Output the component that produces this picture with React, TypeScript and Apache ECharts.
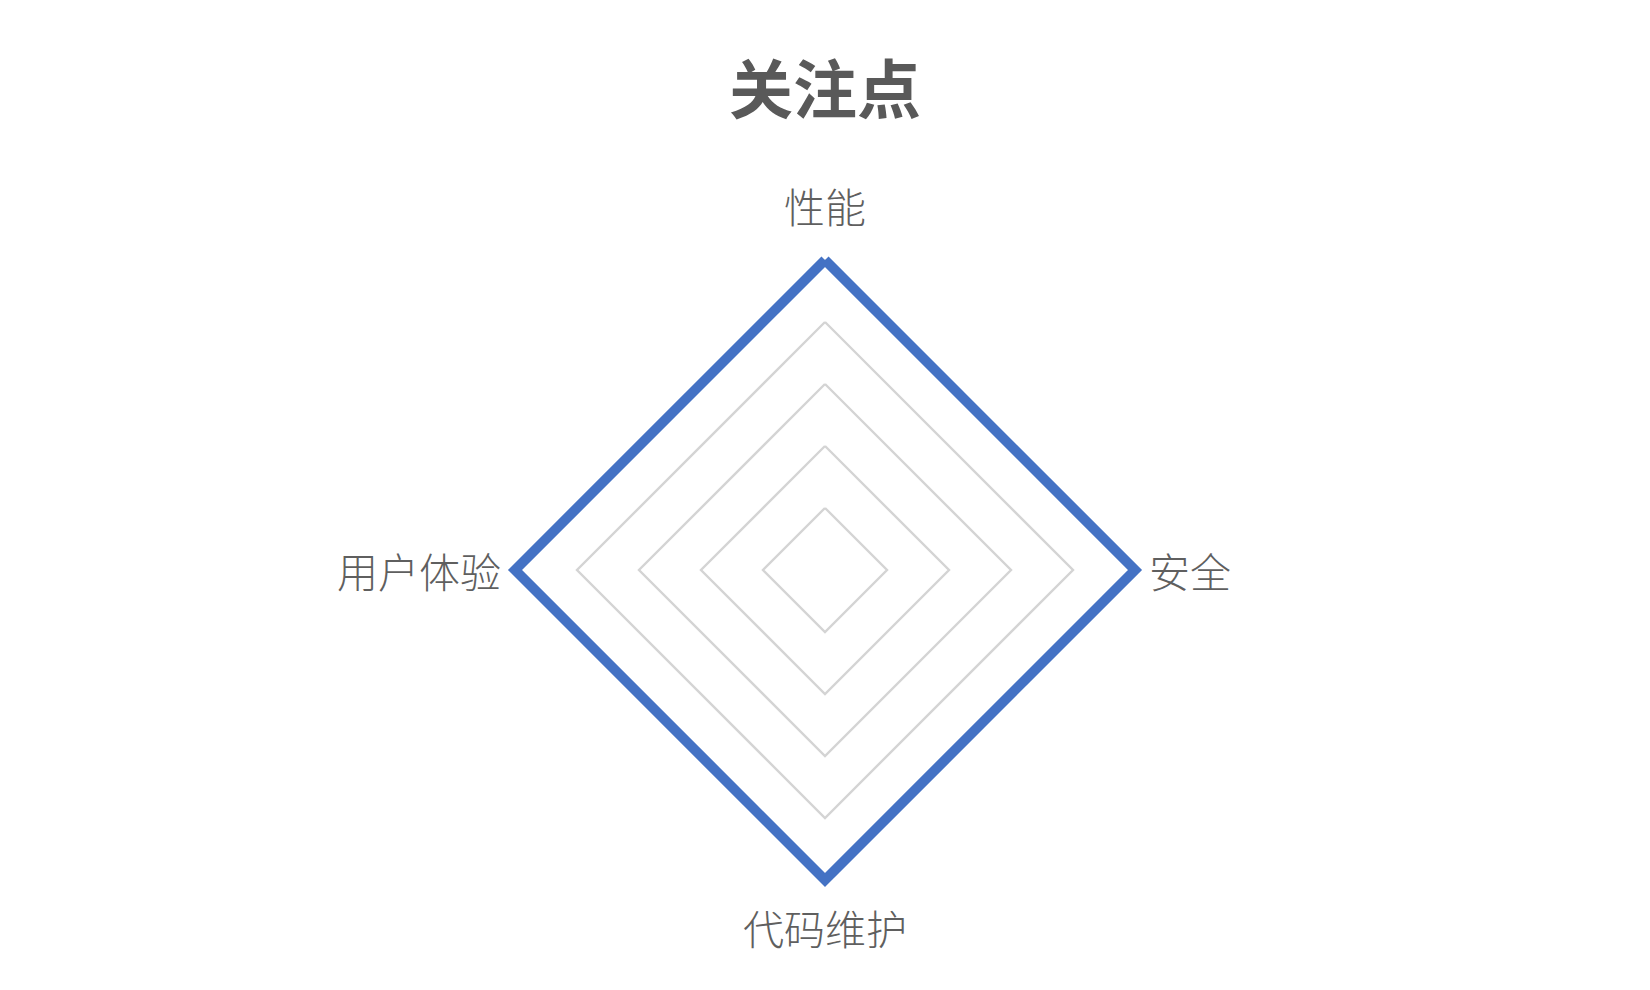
import React, { useEffect, useRef } from "react";
import * as echarts from "echarts";

const titleText = "关注点";
// ECharts places radar indicators counter-clockwise from the top
const indicatorNames = ["性能", "用户体验", "代码维护", "安全"];
const indicatorMax = [100, 100, 100, 100];
const seriesValues = [100, 100, 100, 100];

export default function App() {
  const ref = useRef<HTMLDivElement>(null);
  useEffect(() => {
    if (!ref.current) return;
    const chart = echarts.init(ref.current, null, { renderer: "svg" });
    chart.setOption({
      animation: false,
      backgroundColor: "#ffffff",
      title: {
        text: titleText,
        left: "center",
        top: 48,
        textStyle: {
          fontFamily: "Noto Sans CJK SC",
          fontSize: 64,
          fontWeight: "bold",
          color: "#595959",
        },
      },
      radar: {
        center: [825, 570],
        radius: 310,
        startAngle: 90,
        splitNumber: 5,
        shape: "polygon",
        indicator: indicatorNames.map((n, i) => ({ name: n, max: indicatorMax[i], min: 0 })),
        axisName: {
          fontFamily: "Noto Sans CJK SC",
          fontSize: 41,
          fontWeight: 300,
          color: "#5f5f5f",
          padding: [13, 0, 21, 0],
        },
        nameGap: 14,
        axisLine: { show: false },
        axisTick: { show: false },
        axisLabel: { show: false },
        splitArea: { show: false },
        splitLine: { lineStyle: { color: "#d4d4d4", width: 2.4 } },
      },
      series: [
        {
          type: "radar",
          symbol: "none",
          lineStyle: { color: "#4472C4", width: 10, join: "miter" },
          itemStyle: { color: "#4472C4" },
          data: [{ value: seriesValues, name: titleText }],
        },
      ],
    });
    return () => chart.dispose();
  }, []);
  return (
    <div
      ref={ref}
      style={{ position: "fixed", left: 0, top: 0, width: 1650, height: 990 }}
    />
  );
}
